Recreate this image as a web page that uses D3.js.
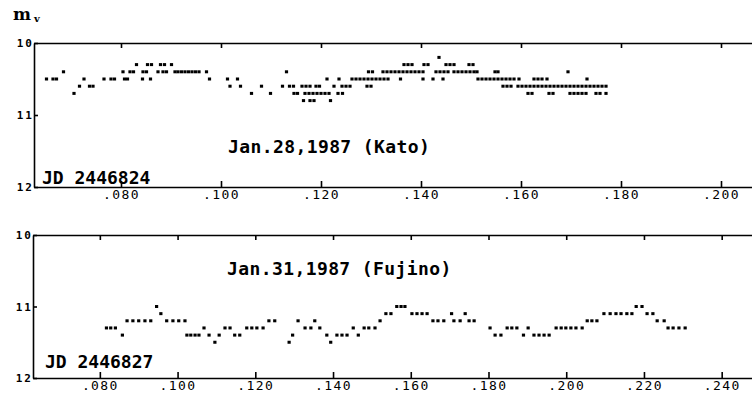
<!DOCTYPE html>
<html>
<head>
<meta charset="utf-8">
<script src="https://cdn.jsdelivr.net/npm/d3@7"></script>
<style>
  body { margin: 0; background: #fff; }
  svg { display: block; }
  .axis path, .axis line { stroke: #000; stroke-width: 1.6; }
  .xlab text { font-family: "DejaVu Sans Mono", monospace; font-size: 13px; letter-spacing: 1.4px; fill: #000; }
  .ylab text { font-family: "DejaVu Sans Mono", monospace; font-size: 11px; font-weight: bold; letter-spacing: 2px; fill: #000; }
  .note { font-family: "DejaVu Sans Mono", monospace; font-weight: bold; fill: #000; }
</style>
</head>
<body>
<svg id="chart" width="752" height="396"></svg>
<script>
// Jan. 28, 1987 (Kato) : [JD fraction, visual magnitude]
const katoObs = [
  [0.0651, 10.5], [0.0664, 10.5], [0.0671, 10.5], [0.0685, 10.4], [0.0706, 10.7],
  [0.0717, 10.6], [0.0726, 10.5], [0.0737, 10.6], [0.0744, 10.6], [0.0766, 10.5],
  [0.0780, 10.5], [0.0787, 10.5], [0.0804, 10.4], [0.0807, 10.5], [0.0813, 10.5],
  [0.0818, 10.4], [0.0825, 10.4], [0.0831, 10.3], [0.0843, 10.5], [0.0844, 10.4],
  [0.0851, 10.4], [0.0853, 10.3], [0.0859, 10.5], [0.0861, 10.3], [0.0874, 10.4],
  [0.0879, 10.3], [0.0884, 10.4], [0.0887, 10.3], [0.0891, 10.4], [0.0901, 10.3],
  [0.0908, 10.4], [0.0914, 10.4], [0.0921, 10.4], [0.0928, 10.4], [0.0935, 10.4],
  [0.0942, 10.4], [0.0949, 10.4], [0.0956, 10.4], [0.0971, 10.4], [0.0977, 10.5],
  [0.1013, 10.5], [0.1018, 10.6], [0.1033, 10.5], [0.1039, 10.6], [0.1061, 10.7],
  [0.1081, 10.6], [0.1099, 10.7], [0.1123, 10.6], [0.1131, 10.4], [0.1137, 10.6],
  [0.1145, 10.6], [0.1146, 10.7], [0.1153, 10.7], [0.1162, 10.6], [0.1165, 10.8],
  [0.1170, 10.6], [0.1178, 10.6], [0.1168, 10.7], [0.1176, 10.7], [0.1184, 10.7],
  [0.1192, 10.7], [0.1200, 10.7], [0.1208, 10.7], [0.1216, 10.7], [0.1178, 10.8],
  [0.1186, 10.8], [0.1219, 10.8], [0.1190, 10.6], [0.1197, 10.6], [0.1212, 10.5],
  [0.1226, 10.6], [0.1234, 10.7], [0.1236, 10.5], [0.1242, 10.6], [0.1243, 10.7],
  [0.1250, 10.6], [0.1258, 10.6], [0.1262, 10.5], [0.1270, 10.5], [0.1278, 10.5],
  [0.1286, 10.5], [0.1292, 10.6], [0.1300, 10.6], [0.1294, 10.5], [0.1302, 10.5],
  [0.1310, 10.5], [0.1318, 10.5], [0.1326, 10.5], [0.1334, 10.5], [0.1295, 10.4],
  [0.1303, 10.4], [0.1324, 10.4], [0.1332, 10.4], [0.1340, 10.4], [0.1348, 10.4],
  [0.1356, 10.4], [0.1364, 10.4], [0.1372, 10.4], [0.1380, 10.4], [0.1388, 10.4],
  [0.1396, 10.4], [0.1404, 10.4], [0.1359, 10.5], [0.1404, 10.5], [0.1424, 10.5],
  [0.1444, 10.5], [0.1366, 10.3], [0.1374, 10.3], [0.1382, 10.3], [0.1406, 10.3],
  [0.1414, 10.3], [0.1436, 10.2], [0.1450, 10.3], [0.1458, 10.3], [0.1466, 10.3],
  [0.1496, 10.3], [0.1504, 10.3], [0.1430, 10.4], [0.1438, 10.4], [0.1446, 10.4],
  [0.1454, 10.4], [0.1466, 10.4], [0.1474, 10.4], [0.1482, 10.4], [0.1490, 10.4],
  [0.1498, 10.4], [0.1506, 10.4], [0.1512, 10.4], [0.1548, 10.4], [0.1554, 10.4],
  [0.1694, 10.4], [0.1514, 10.5], [0.1522, 10.5], [0.1530, 10.5], [0.1538, 10.5],
  [0.1546, 10.5], [0.1554, 10.5], [0.1562, 10.5], [0.1570, 10.5], [0.1578, 10.5],
  [0.1586, 10.5], [0.1596, 10.5], [0.1626, 10.5], [0.1634, 10.5], [0.1642, 10.5],
  [0.1652, 10.5], [0.1732, 10.5], [0.1564, 10.6], [0.1572, 10.6], [0.1580, 10.6],
  [0.1594, 10.6], [0.1602, 10.6], [0.1610, 10.6], [0.1618, 10.6], [0.1626, 10.6],
  [0.1634, 10.6], [0.1642, 10.6], [0.1650, 10.6], [0.1658, 10.6], [0.1666, 10.6],
  [0.1674, 10.6], [0.1682, 10.6], [0.1690, 10.6], [0.1698, 10.6], [0.1706, 10.6],
  [0.1714, 10.6], [0.1722, 10.6], [0.1730, 10.6], [0.1738, 10.6], [0.1746, 10.6],
  [0.1754, 10.6], [0.1762, 10.6], [0.1770, 10.6], [0.1614, 10.7], [0.1622, 10.7],
  [0.1656, 10.7], [0.1664, 10.7], [0.1698, 10.7], [0.1706, 10.7], [0.1714, 10.7],
  [0.1722, 10.7], [0.1730, 10.7], [0.1750, 10.7], [0.1758, 10.7], [0.1770, 10.7]
];

// Jan. 31, 1987 (Fujino)
const fujinoObs = [
  [0.0817, 11.3], [0.0828, 11.3], [0.0840, 11.3], [0.0858, 11.4], [0.0870, 11.2],
  [0.0885, 11.2], [0.0900, 11.2], [0.0916, 11.2], [0.0931, 11.2], [0.0946, 11.0],
  [0.0957, 11.1], [0.0972, 11.2], [0.0988, 11.2], [0.1003, 11.2], [0.1019, 11.2],
  [0.1024, 11.4], [0.1034, 11.4], [0.1045, 11.4], [0.1055, 11.4], [0.1068, 11.3],
  [0.1081, 11.4], [0.1096, 11.5], [0.1107, 11.4], [0.1122, 11.3], [0.1135, 11.3],
  [0.1147, 11.4], [0.1160, 11.4], [0.1178, 11.3], [0.1191, 11.3], [0.1204, 11.3],
  [0.1220, 11.3], [0.1235, 11.2], [0.1250, 11.2], [0.1287, 11.5], [0.1296, 11.4],
  [0.1310, 11.2], [0.1328, 11.3], [0.1343, 11.3], [0.1353, 11.2], [0.1366, 11.3],
  [0.1384, 11.4], [0.1394, 11.5], [0.1410, 11.4], [0.1423, 11.4], [0.1436, 11.4],
  [0.1452, 11.3], [0.1465, 11.4], [0.1480, 11.3], [0.1492, 11.3], [0.1508, 11.3],
  [0.1521, 11.2], [0.1536, 11.1], [0.1549, 11.1], [0.1564, 11.0], [0.1575, 11.0],
  [0.1585, 11.0], [0.1603, 11.1], [0.1616, 11.1], [0.1629, 11.1], [0.1642, 11.1],
  [0.1657, 11.2], [0.1670, 11.2], [0.1685, 11.2], [0.1705, 11.1], [0.1711, 11.2],
  [0.1727, 11.2], [0.1740, 11.1], [0.1750, 11.2], [0.1763, 11.2], [0.1804, 11.3],
  [0.1817, 11.4], [0.1832, 11.4], [0.1848, 11.3], [0.1860, 11.3], [0.1873, 11.3],
  [0.1890, 11.4], [0.1902, 11.3], [0.1917, 11.4], [0.1930, 11.4], [0.1943, 11.4],
  [0.1956, 11.4], [0.1974, 11.3], [0.1987, 11.3], [0.1999, 11.3], [0.2012, 11.3],
  [0.2025, 11.3], [0.2041, 11.3], [0.2054, 11.2], [0.2066, 11.2], [0.2079, 11.2],
  [0.2097, 11.1], [0.2113, 11.1], [0.2128, 11.1], [0.2141, 11.1], [0.2156, 11.1],
  [0.2169, 11.1], [0.2180, 11.0], [0.2195, 11.0], [0.2208, 11.1], [0.2223, 11.1],
  [0.2234, 11.2], [0.2252, 11.2], [0.2262, 11.3], [0.2275, 11.3], [0.2290, 11.3],
  [0.2306, 11.3]
];

const magTicks = [10, 11, 12];
const katoTicks = [0.08, 0.10, 0.12, 0.14, 0.16, 0.18, 0.20];
const fujinoTicks = [0.08, 0.10, 0.12, 0.14, 0.16, 0.18, 0.20, 0.22, 0.24];

const svg = d3.select("#chart");
const fmt = (d) => d3.format(".3f")(d).slice(1);

// one light-curve panel
function panel(cfg) {
  const x = d3.scaleLinear().domain(cfg.xDomain).range([cfg.left, 752]);
  const y = d3.scaleLinear().domain([10, 12]).range([cfg.top, cfg.bottom]);

  // top frame line with inward ticks
  svg.append("g")
    .attr("class", "axis")
    .attr("transform", `translate(0,${cfg.top})`)
    .call(d3.axisTop(x).tickValues(cfg.ticks).tickSize(-5).tickSizeOuter(0).tickFormat(""));

  // bottom axis with labels
  svg.append("g")
    .attr("class", "axis xlab")
    .attr("transform", `translate(0,${cfg.bottom})`)
    .call(d3.axisBottom(x).tickValues(cfg.ticks).tickSize(-6).tickSizeOuter(0).tickPadding(3).tickFormat(fmt));

  // left axis
  svg.append("g")
    .attr("class", "axis ylab")
    .attr("transform", `translate(${cfg.left},0)`)
    .call(d3.axisLeft(y).tickValues(magTicks).tickSize(-4).tickSizeOuter(0).tickPadding(0).tickFormat(d3.format("d")));

  svg.selectAll(".axis .domain").attr("stroke-width", 1.8);

  // observations
  svg.append("g")
    .selectAll("rect")
    .data(cfg.data)
    .join("rect")
    .attr("x", (d) => x(d[0]) - 1.6)
    .attr("y", (d) => y(d[1]) - 1.5)
    .attr("width", 3.2)
    .attr("height", 3)
    .attr("fill", "#000");

  svg.append("text")
    .attr("class", "note")
    .attr("x", cfg.titleX)
    .attr("y", cfg.titleY)
    .attr("font-size", 18)
    .attr("letter-spacing", 0.4)
    .text(cfg.title);

  svg.append("text")
    .attr("class", "note")
    .attr("x", cfg.jdX)
    .attr("y", cfg.jdY)
    .attr("font-size", 18)
    .text(cfg.jd);
}

panel({
  data: katoObs, xDomain: [0.0626, 0.2062], ticks: katoTicks,
  left: 34, top: 43, bottom: 187,
  title: "Jan.28,1987 (Kato)", titleX: 228, titleY: 153,
  jd: "JD 2446824", jdX: 42, jdY: 184
});

panel({
  data: fujinoObs, xDomain: [0.0628, 0.2478], ticks: fujinoTicks,
  left: 33, top: 235, bottom: 378,
  title: "Jan.31,1987 (Fujino)", titleX: 227, titleY: 275,
  jd: "JD 2446827", jdX: 45, jdY: 368
});

// m_v label
const mv = svg.append("text")
  .attr("x", 13)
  .attr("y", 20)
  .attr("font-family", "'DejaVu Serif', serif")
  .attr("font-weight", "bold")
  .attr("font-size", 17)
  .text("m");
mv.append("tspan")
  .attr("dx", 3)
  .attr("dy", 2)
  .attr("font-size", 10)
  .text("v");
</script>
</body>
</html>
